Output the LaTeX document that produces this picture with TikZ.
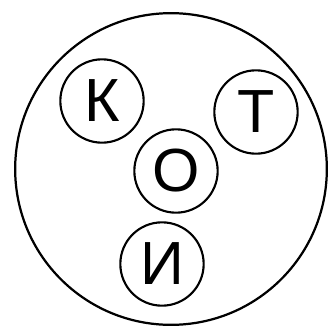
\documentclass[tikz,border=0pt]{standalone}
\usepackage{fontspec}
\setmainfont{Liberation Sans}

\begin{document}
\begin{tikzpicture}[x=0.03cm,y=-0.03cm,
  letter/.style={draw,circle,line width=1.8pt,minimum size=2.5cm,inner sep=0pt,
    font=\fontsize{52}{52}\selectfont},
  outer/.style={draw,circle,line width=1.9pt,minimum size=9.35cm}]
 \useasboundingbox (0,0) rectangle (329,327);
 \node[outer] (ring) at (171,169) {};
 \node[letter] (k) at (102,101) {К};
 \node[letter] (t) at (256,112) {Т};
 \node[letter] (o) at (176,171) {О};
 \node[letter] (i) at (162,264) {И};
\end{tikzpicture}
\end{document}
